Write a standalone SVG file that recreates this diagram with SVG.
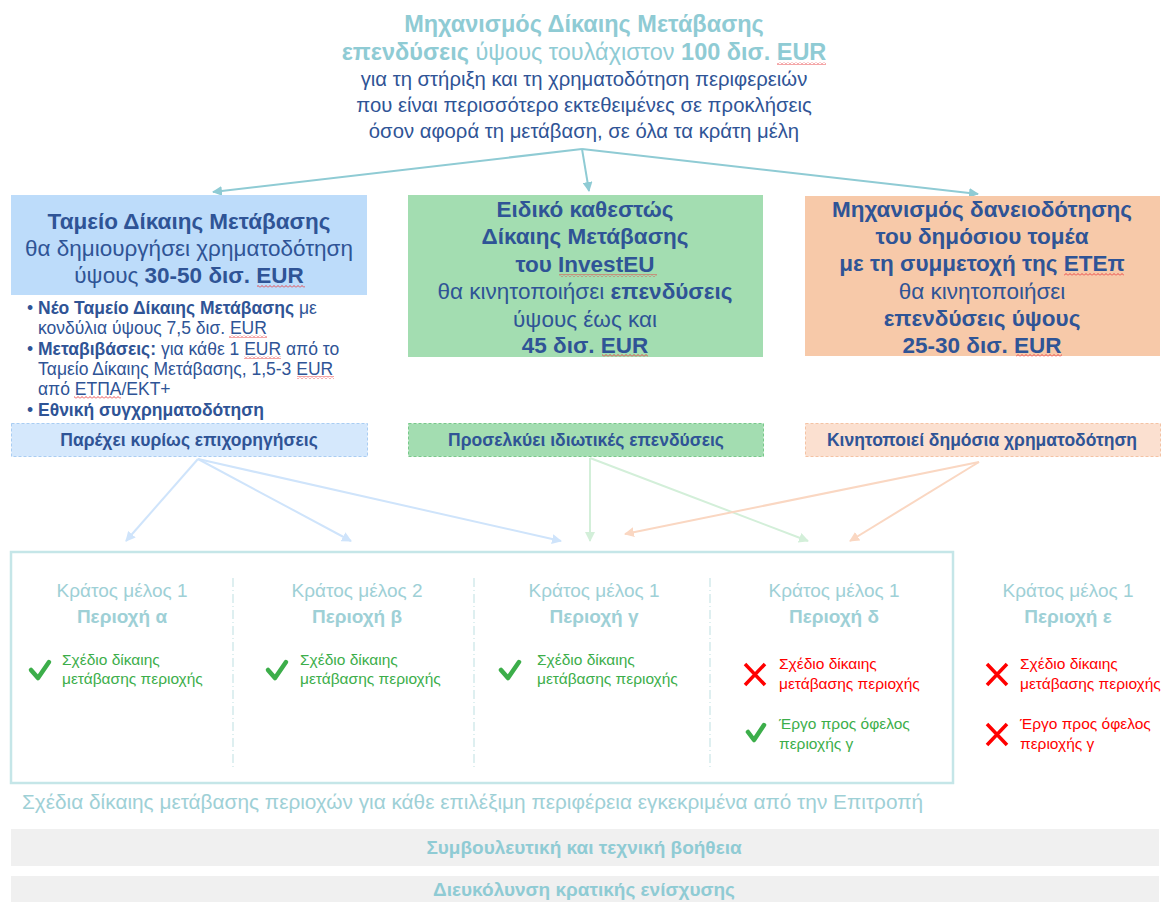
<svg xmlns="http://www.w3.org/2000/svg" width="1168" height="902" viewBox="0 0 1168 902">
<style>
text{font-family:"Liberation Sans",Arial,sans-serif}
.tt{fill:#8fcbd4}
.db{fill:#2f5496}
.b{font-weight:bold}
.t22{font-size:22.5px}
.t17{font-size:17.5px}
.mid{text-anchor:middle}
.hd{fill:#9ed0d6;font-size:19px;text-anchor:middle}
.gr{fill:#3cae4a;font-size:15.5px}
.rd{fill:#ff0000;font-size:15.5px}
.chk{fill:none;stroke:#3cae4a;stroke-width:4.5;stroke-linecap:round;stroke-linejoin:round}
.x{fill:none;stroke:#ff0000;stroke-width:3.5;stroke-linecap:butt}
.sep{stroke:#c9e4e7;stroke-width:1.2;stroke-dasharray:9 3 1 3}
.wv{fill:url(#wave)}
</style>
<defs>
<pattern id="wave" patternUnits="userSpaceOnUse" width="4" height="3"><path d="M0,2.5 L2,0.5 L4,2.5" fill="none" stroke="#e8393b" stroke-width="0.9"/></pattern>
<marker id="aT" viewBox="0 0 10 10" refX="9" refY="5" markerWidth="5" markerHeight="5" orient="auto"><path d="M0,0L10,5L0,10z" fill="#8fcbd4"/></marker>
<marker id="aB" viewBox="0 0 10 10" refX="9" refY="5" markerWidth="5" markerHeight="5" orient="auto"><path d="M0,0L10,5L0,10z" fill="#cfe4fb"/></marker>
<marker id="aG" viewBox="0 0 10 10" refX="9" refY="5" markerWidth="5" markerHeight="5" orient="auto"><path d="M0,0L10,5L0,10z" fill="#d3efd9"/></marker>
<marker id="aO" viewBox="0 0 10 10" refX="9" refY="5" markerWidth="5" markerHeight="5" orient="auto"><path d="M0,0L10,5L0,10z" fill="#fad7c2"/></marker>
</defs>

<g id="title">
<text class="tt b mid" x="584" y="32" font-size="23.5">Μηχανισμός Δίκαιης Μετάβασης</text>
<text class="tt mid" x="584" y="60" font-size="23.5"><tspan class="b">επενδύσεις</tspan> ύψους τουλάχιστον <tspan class="b">100 δισ. EUR</tspan></text>
<text class="db mid" x="584" y="86" font-size="20.3">για τη στήριξη και τη χρηματοδότηση περιφερειών</text>
<text class="db mid" x="584" y="112" font-size="20.3">που είναι περισσότερο εκτεθειμένες σε προκλήσεις</text>
<text class="db mid" x="584" y="138" font-size="20.3">όσον αφορά τη μετάβαση, σε όλα τα κράτη μέλη</text>
<rect class="wv" x="777" y="62" width="49" height="3"/>
</g>

<g id="connectors" fill="none" stroke-width="2">
<path d="M582,149 L213,192" stroke="#8fcbd4" marker-end="url(#aT)"/>
<path d="M582,149 L589,191" stroke="#8fcbd4" marker-end="url(#aT)"/>
<path d="M582,149 L978,194" stroke="#8fcbd4" marker-end="url(#aT)"/>
<path d="M198,459 L126,541" stroke="#cfe4fb" marker-end="url(#aB)"/>
<path d="M198,459 L351,541" stroke="#cfe4fb" marker-end="url(#aB)"/>
<path d="M198,459 L561,541" stroke="#cfe4fb" marker-end="url(#aB)"/>
<path d="M590,458 L590,541" stroke="#d3efd9" marker-end="url(#aG)"/>
<path d="M590,458 L808,541" stroke="#d3efd9" marker-end="url(#aG)"/>
<path d="M979,462 L625,534" stroke="#fad7c2" marker-end="url(#aO)"/>
<path d="M979,462 L850,541" stroke="#fad7c2" marker-end="url(#aO)"/>
</g>

<g id="fund">
<rect x="11" y="195" width="356" height="100" fill="#bddcfa"/>
<text class="db b t22 mid" x="189" y="229">Ταμείο Δίκαιης Μετάβασης</text>
<text class="db t22 mid" x="189" y="256">θα δημιουργήσει χρηματοδότηση</text>
<text class="db t22 mid" x="189" y="283">ύψους <tspan class="b">30-50 δισ. EUR</tspan></text>
<rect class="wv" x="257" y="285" width="48" height="3"/>
</g>

<g id="fund-bullets" class="db t17">
<text x="27" y="314">• <tspan class="b">Νέο Ταμείο Δίκαιης Μετάβασης</tspan> με</text>
<text x="38" y="334">κονδύλια ύψους 7,5 δισ. EUR</text>
<text x="27" y="355">• <tspan class="b">Μεταβιβάσεις:</tspan> για κάθε 1 EUR από το</text>
<text x="38" y="375">Ταμείο Δίκαιης Μετάβασης, 1,5-3 EUR</text>
<text x="38" y="395">από ΕΤΠΑ/ΕΚΤ+</text>
<text x="27" y="416">• <tspan class="b">Εθνική συγχρηματοδότηση</tspan></text>
<rect class="wv" x="229" y="335" width="38" height="3"/>
<rect class="wv" x="244" y="356" width="37" height="3"/>
<rect class="wv" x="297" y="376" width="37" height="3"/>
<rect class="wv" x="74" y="396" width="47" height="3"/>
</g>

<g id="fund-sub">
<rect x="11.5" y="423.5" width="356" height="33" fill="#d5e8fc" stroke="#a9cdf3" stroke-dasharray="3 2"/>
<text class="db b t17 mid" x="189" y="446">Παρέχει κυρίως επιχορηγήσεις</text>
</g>

<g id="investeu">
<rect x="408" y="195" width="355" height="162" fill="#a3ddb1"/>
<text class="db b t22 mid" x="585" y="217">Ειδικό καθεστώς</text>
<text class="db b t22 mid" x="585" y="244">Δίκαιης Μετάβασης</text>
<text class="db b t22 mid" x="585" y="272">του InvestEU</text>
<text class="db t22 mid" x="585" y="299">θα κινητοποιήσει <tspan class="b">επενδύσεις</tspan></text>
<text class="db t22 mid" x="585" y="327">ύψους έως και</text>
<text class="db b t22 mid" x="585" y="353">45 δισ. EUR</text>
<rect class="wv" x="559" y="274" width="98" height="3"/>
<rect class="wv" x="602" y="354" width="46" height="3"/>
</g>

<g id="investeu-sub">
<rect x="408.5" y="423.5" width="355" height="33" fill="#a3ddb1" stroke="#78c98a" stroke-dasharray="3 2"/>
<text class="db b t17 mid" x="586" y="446">Προσελκύει ιδιωτικές επενδύσεις</text>
</g>

<g id="loan">
<rect x="805" y="196" width="355" height="160" fill="#f7c9a9"/>
<text class="db b t22 mid" x="982" y="217">Μηχανισμός δανειοδότησης</text>
<text class="db b t22 mid" x="982" y="244">του δημόσιου τομέα</text>
<text class="db b t22 mid" x="982" y="271">με τη συμμετοχή της ΕΤΕπ</text>
<text class="db t22 mid" x="982" y="299">θα κινητοποιήσει</text>
<text class="db b t22 mid" x="982" y="326">επενδύσεις ύψους</text>
<text class="db b t22 mid" x="982" y="353">25-30 δισ. EUR</text>
<rect class="wv" x="1064" y="273" width="60" height="3"/>
<rect class="wv" x="1016" y="354" width="46" height="3"/>
</g>

<g id="loan-sub">
<rect x="805.5" y="423.5" width="355" height="33" fill="#fbe0d0" stroke="#f4c3a4" stroke-dasharray="3 2"/>
<text class="db b t17 mid" x="982" y="446">Κινητοποιεί δημόσια χρηματοδότηση</text>
</g>

<g id="regions-box">
<rect x="11" y="552" width="942" height="231" fill="none" stroke="#c5e6e8" stroke-width="2.5"/>
<line class="sep" x1="233" y1="578" x2="233" y2="768"/>
<line class="sep" x1="474" y1="578" x2="474" y2="768"/>
<line class="sep" x1="710" y1="578" x2="710" y2="768"/>
</g>

<g id="region-a">
<text class="hd" x="122" y="597">Κράτος μέλος 1</text>
<text class="hd b" x="122" y="623">Περιοχή α</text>
<path class="chk" d="M31,670 L38,678 L49,662"/>
<text class="gr" x="62" y="665">Σχέδιο δίκαιης</text>
<text class="gr" x="62" y="684">μετάβασης περιοχής</text>
</g>

<g id="region-b">
<text class="hd" x="357" y="597">Κράτος μέλος 2</text>
<text class="hd b" x="357" y="623">Περιοχή β</text>
<path class="chk" d="M268,670 L275,678 L286,662"/>
<text class="gr" x="300" y="665">Σχέδιο δίκαιης</text>
<text class="gr" x="300" y="684">μετάβασης περιοχής</text>
</g>

<g id="region-c">
<text class="hd" x="594" y="597">Κράτος μέλος 1</text>
<text class="hd b" x="594" y="623">Περιοχή γ</text>
<path class="chk" d="M501,670 L508,678 L519,662"/>
<text class="gr" x="537" y="665">Σχέδιο δίκαιης</text>
<text class="gr" x="537" y="684">μετάβασης περιοχής</text>
</g>

<g id="region-d">
<text class="hd" x="834" y="597">Κράτος μέλος 1</text>
<text class="hd b" x="834" y="623">Περιοχή δ</text>
<path class="x" d="M745,664 L765,685 M765,664 L745,685"/>
<text class="rd" x="779" y="669">Σχέδιο δίκαιης</text>
<text class="rd" x="779" y="689">μετάβασης περιοχής</text>
<path class="chk" d="M748,732 L754,740 L764,725"/>
<text class="gr" x="779" y="729">Έργο προς όφελος</text>
<text class="gr" x="779" y="749">περιοχής γ</text>
</g>

<g id="region-e">
<text class="hd" x="1068" y="597">Κράτος μέλος 1</text>
<text class="hd b" x="1068" y="623">Περιοχή ε</text>
<path class="x" d="M987,664 L1007,685 M1007,664 L987,685"/>
<text class="rd" x="1020" y="669">Σχέδιο δίκαιης</text>
<text class="rd" x="1020" y="689">μετάβασης περιοχής</text>
<path class="x" d="M987,724 L1007,745 M1007,724 L987,745"/>
<text class="rd" x="1020" y="729">Έργο προς όφελος</text>
<text class="rd" x="1020" y="749">περιοχής γ</text>
</g>

<g id="caption">
<text x="22" y="809" fill="#9ed0d6" font-size="20.8">Σχέδια δίκαιης μετάβασης περιοχών για κάθε επιλέξιμη περιφέρεια εγκεκριμένα από την Επιτροπή</text>
</g>

<g id="advisory">
<rect x="11" y="829" width="1148" height="37" fill="#f0f0f0"/>
<text class="b mid" x="584" y="854" fill="#8fcbd4" font-size="19">Συμβουλευτική και τεχνική βοήθεια</text>
</g>

<g id="state-aid">
<rect x="11" y="876" width="1148" height="30" fill="#f0f0f0"/>
<text class="b mid" x="584" y="896" fill="#8fcbd4" font-size="19">Διευκόλυνση κρατικής ενίσχυσης</text>
</g>
</svg>
